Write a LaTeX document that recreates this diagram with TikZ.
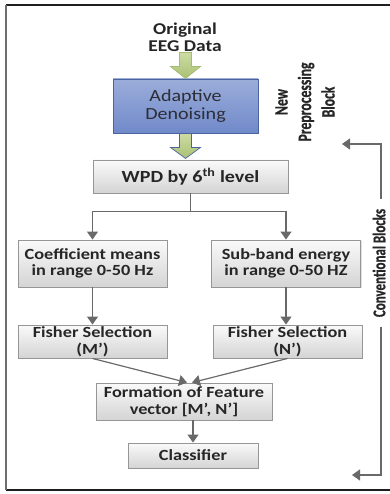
\documentclass[tikz,border=0pt]{standalone}
\usepackage{fontspec}
\setmainfont{Carlito}[FakeStretch=1.18]
\newfontfamily\vfont{Carlito}[FakeStretch=0.72, FakeBold=0.6]
\usetikzlibrary{arrows.meta,calc,shadows}
\definecolor{txt}{RGB}{38,38,38}
\definecolor{boxline}{RGB}{150,150,150}
\definecolor{boxtop}{RGB}{250,250,250}
\definecolor{boxbot}{RGB}{212,212,212}
\definecolor{conncol}{RGB}{105,105,105}
\definecolor{bluetop}{RGB}{155,173,218}
\definecolor{bluebot}{RGB}{112,137,201}
\definecolor{blueline}{RGB}{75,100,160}
\definecolor{greentop}{RGB}{205,220,165}
\definecolor{greenbot}{RGB}{170,192,115}
\definecolor{greenline}{RGB}{165,188,115}
\definecolor{framecol}{RGB}{30,30,30}
\definecolor{leftframe}{RGB}{110,110,110}
\begin{document}
\begin{tikzpicture}[x=1pt,y=-1pt,
  graybox/.style={draw=boxline, line width=0.9pt, top color=boxtop, bottom color=boxbot,
    text=txt, font=\bfseries\fontsize{15.5}{16.5}\selectfont, align=center, inner sep=0pt,
    drop shadow={shadow xshift=1.2pt,shadow yshift=-1.2pt,opacity=0.25}},
  bluebox/.style={draw=blueline, line width=0.9pt, top color=bluetop, bottom color=bluebot,
    text={rgb,255:red,45;green,45;blue,55}, font=\fontsize{17}{17.5}\selectfont, align=center, inner sep=0pt},
  conn/.style={draw=conncol, line width=1.2pt},
  arr/.style={-{Triangle[width=11pt,length=8pt]}},
  vlabel/.style={rotate=90, text=txt, align=center},
  greenarrow/.style={line width=0.7pt, top color=greentop, bottom color=greenbot, line join=miter}
]
\useasboundingbox (0,0) rectangle (389,494);
% frame
\draw[framecol, line width=1.6pt] (6,5) -- (390,5);
\draw[framecol, line width=1.6pt] (6,490) -- (390,490);
\draw[leftframe, line width=1.4pt] (6,5) -- (6,490);

% nodes
\node[text=txt, font=\bfseries\fontsize{16.5}{17}\selectfont, align=center] (orig) at (185,37) {Original\\EEG Data};
\node[bluebox, minimum width=145pt, minimum height=54pt] (den) at (185.5,106) {Adaptive\\Denoising};
\node[graybox, minimum width=195pt, minimum height=33pt, font=\bfseries\fontsize{17}{17}\selectfont] (wpd) at (190.5,176.5) {WPD by 6\textsuperscript{th} level};
\node[graybox, minimum width=149pt, minimum height=47pt] (coef) at (92.5,263.5) {Coefficient means\\in range 0-50 Hz};
\node[graybox, minimum width=149pt, minimum height=47pt] (sub) at (286,263.5) {Sub-band energy\\in range 0-50 HZ};
\node[graybox, minimum width=149pt, minimum height=33pt] (fishM) at (92.5,341.5) {Fisher Selection\\(M’)};
\node[graybox, minimum width=149pt, minimum height=33pt] (fishN) at (287.5,341.5) {Fisher Selection\\(N’)};
\node[graybox, minimum width=176pt, minimum height=37pt] (form) at (184,401.5) {Formation of Feature\\vector [M’, N’]};
\node[graybox, minimum width=130pt, minimum height=25pt] (cls) at (193,455.5) {Classifier};

% side labels
\node[vlabel, font=\vfont\bfseries\fontsize{19}{23.5}\selectfont] (newpre) at (305,102) {New\\Preprocessing\\Block};
\node[vlabel, font=\vfont\bfseries\fontsize{18}{18}\selectfont, inner xsep=10pt, inner ysep=0pt] (conv) at (379,263) {Conventional Blocks};

% block arrows
\draw[greenarrow, draw=greenline] ($(den.north)+(-6,-26)$) -- ++(12,0) -- ++(0,14) -- ++(9,0) -- (den.north) -- ++(-15,-12) -- ++(9,0) -- cycle;
\draw[greenarrow, draw=blueline] ($(den.south)+(-6,0)$) -- ++(0,14) -- ++(-9,0) -- ($(den.south)+(0,25)$) -- ++(15,-11) -- ++(-9,0) -- ++(0,-14) -- cycle;

% connectors
\draw[conn] (wpd.south) -- ++(0,18) coordinate (split);
\draw[conn, arr] (split) -| (coef.north);
\draw[conn, arr] (split) -| (sub.north);
\draw[conn, arr] (coef.south) -- (fishM.north);
\draw[conn, arr] (sub.south) -- (sub.south |- fishN.north);
\coordinate (joinL) at ($(form.north)+(3,0)$);
\coordinate (joinR) at ($(form.north)+(8,0)$);
\draw[conn, arr] (fishM.south) -- (joinL);
\draw[conn, arr] (fishN.south) -- (joinR);
\draw[conn, arr] (form.south -| cls.north) -- (cls.north);

% bracket
\coordinate (bt) at (381,144);
\coordinate (btend) at (342,144);
\coordinate (bb) at (381,475);
\coordinate (bbend) at (352,475);
\draw[conn, arr] (conv.east -| bt) -- (bt) -- (btend);
\draw[conn, arr] (conv.west -| bb) -- (bb) -- (bbend);
\end{tikzpicture}
\end{document}
